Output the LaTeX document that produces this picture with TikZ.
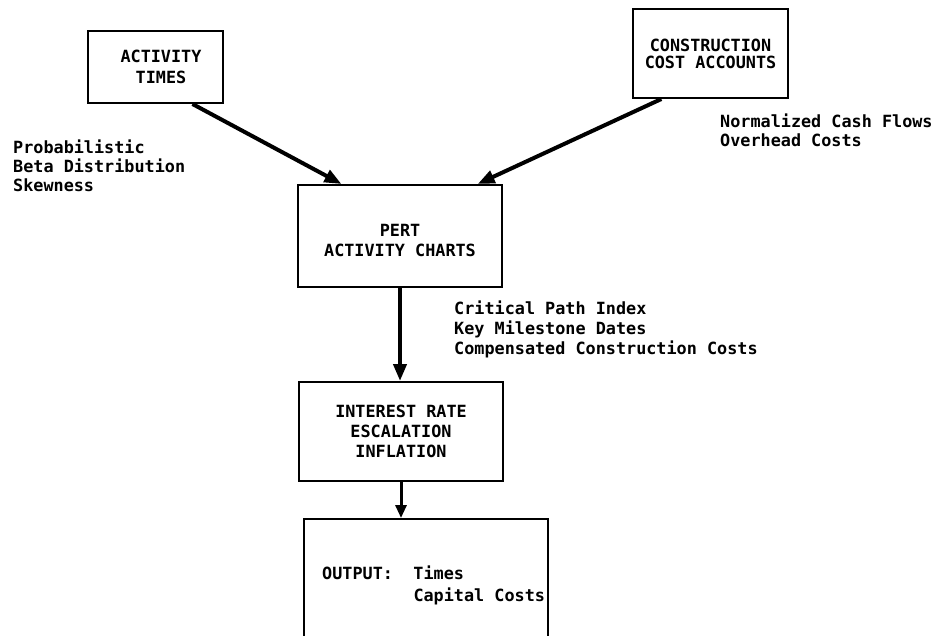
\documentclass[tikz,border=0pt]{standalone}
\usepackage{fontspec}
\setmonofont{DejaVu Sans Mono}
\usetikzlibrary{arrows.meta,calc}
\tikzset{
  boxnode/.style={draw, line width=2pt, align=center, inner sep=0pt},
  lbl/.style={align=left, inner sep=0pt, anchor=west},
  bigarrow/.style={line width=4pt, -{Triangle[length=17pt,width=13pt]}},
  smallarrow/.style={line width=3pt, -{Triangle[length=13pt,width=11pt]}},
  txt/.style={font=\ttfamily\bfseries\fontsize{16.8}{20}\selectfont}
}
\begin{document}
\begin{tikzpicture}[x=1pt,y=-1pt,txt]
\useasboundingbox (0,0) rectangle (947,636);
\clip (0,0) rectangle (947,636);
\fill[white] (0,0) rectangle (947,636);
% boxes
\node[boxnode, minimum width=135pt, minimum height=72pt, font=\ttfamily\bfseries\fontsize{16.8}{21}\selectfont] (act) at (155.5,67) {\hspace*{11pt}ACTIVITY\\\hspace*{11pt}TIMES};
\node[boxnode, minimum width=155pt, minimum height=89pt, font=\ttfamily\bfseries\fontsize{16.8}{17}\selectfont] (cca) at (710.5,53.5) {CONSTRUCTION\\COST ACCOUNTS};
\node[boxnode, minimum width=204pt, minimum height=102pt] (pert) at (400,236) {\rule{0pt}{20.5pt}PERT\\ACTIVITY CHARTS};
\node[boxnode, minimum width=204pt, minimum height=99pt] (ir) at (401,431.5) {INTEREST RATE\\ESCALATION\\INFLATION};
\node[boxnode, minimum width=244pt, minimum height=141pt] (out) at (426,589.5) {};
\node[lbl, font=\ttfamily\bfseries\fontsize{16.8}{22}\selectfont] (outtxt) at (322,586)
  {\begin{tabular}{@{}l@{\hspace{20.5pt}}l@{}}OUTPUT: & Times\\ & Capital Costs\end{tabular}};
% labels
\node[lbl, font=\ttfamily\bfseries\fontsize{16.8}{19}\selectfont] (lefttxt) at (13,166) {Probabilistic\\Beta Distribution\\Skewness};
\node[lbl, font=\ttfamily\bfseries\fontsize{16.8}{19}\selectfont] (righttxt) at (720,130) {Normalized Cash Flows\\Overhead Costs};
\node[lbl] (midtxt) at (454,329) {Critical Path Index\\Key Milestone Dates\\Compensated Construction Costs};
% connectors
\draw[bigarrow] ($(act.south west)!0.77!(act.south east)$) -- ($(pert.north west)!0.216!(pert.north east)$);
\draw[bigarrow] ($(cca.south west)!0.187!(cca.south east)$) -- ($(pert.north west)!0.877!(pert.north east)$);
\draw[bigarrow] (pert.south) -- (pert.south |- ir.north);
\draw[smallarrow] (ir.south) -- (ir.south |- out.north);
\end{tikzpicture}
\end{document}
